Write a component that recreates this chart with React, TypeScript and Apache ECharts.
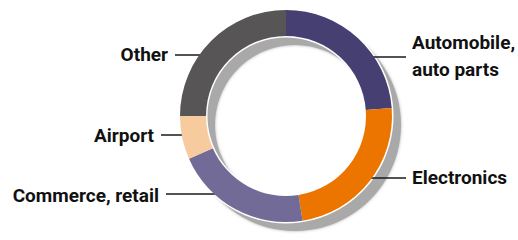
import React, { useEffect, useRef } from "react";
import * as echarts from "echarts";

const categories = ["Automobile,\nauto parts", "Electronics", "Commerce, retail", "Airport", "Other"];
const shares = [23.8, 23.7, 20.9, 6.6, 25.0];
const colors = ["#463f72", "#ec7500", "#736b97", "#f7cb9e", "#575556"];

// label placement (page pixels): anchor x/y, alignment, leader line from xa to xb at ly
const labelPlaces = [
  { x: 412, y: 56, align: "left", xa: 358, xb: 406, ly: 57 },
  { x: 412, y: 177, align: "left", xa: 361, xb: 406, ly: 178 },
  { x: 159, y: 195, align: "right", xa: 230, xb: 166, ly: 194 },
  { x: 154, y: 135, align: "right", xa: 194, xb: 161, ly: 135 },
  { x: 168, y: 54, align: "right", xa: 215, xb: 175, ly: 55 },
];

const FONT = "Roboto, 'Liberation Sans', sans-serif";

export default function App() {
  const ref = useRef<HTMLDivElement>(null);
  useEffect(() => {
    if (!ref.current) return;
    const chart = echarts.init(ref.current, null, { renderer: "svg" });
    const total = shares.reduce((a, b) => a + b, 0);
    chart.setOption({
      animation: false,
      backgroundColor: "#ffffff",
      series: [
        {
          type: "pie",
          z: 1,
          silent: true,
          center: [295, 125],
          radius: [80, 106],
          label: { show: false },
          labelLine: { show: false },
          itemStyle: { color: "#a9a9a9", shadowBlur: 3, shadowColor: "rgba(120,120,120,0.6)" },
          data: [{ value: total, name: "shadow" }],
        },
        {
          type: "pie",
          z: 2,
          silent: true,
          center: [286, 116],
          radius: [78.5, 107.5],
          label: { show: false },
          labelLine: { show: false },
          itemStyle: { color: "#ffffff" },
          data: [{ value: total, name: "edge" }],
        },
        {
          type: "pie",
          z: 3,
          center: [286, 116],
          radius: [80, 106],
          startAngle: 90,
          clockwise: true,
          avoidLabelOverlap: false,
          itemStyle: { borderWidth: 0 },
          label: {
            show: true,
            formatter: "{b}",
            color: "#111111",
            fontFamily: FONT,
            fontWeight: "bold",
            fontSize: 19,
            lineHeight: 27,
          },
          labelLine: { show: true, lineStyle: { color: "#1a1a1a", width: 1.3 } },
          labelLayout: (params: any) => {
            const p = labelPlaces[params.dataIndex];
            return {
              x: p.x,
              y: p.y,
              align: p.align,
              verticalAlign: "middle",
              labelLinePoints: [
                [p.xa, p.ly],
                [p.xb, p.ly],
                [p.xb, p.ly],
              ],
            };
          },
          data: categories.map((c, i) => ({
            name: c,
            value: shares[i],
            itemStyle: { color: colors[i] },
          })),
        },
      ],
    });
    return () => chart.dispose();
  }, []);
  return (
    <div
      ref={ref}
      style={{ position: "fixed", left: 0, top: 0, width: 518, height: 240 }}
    />
  );
}
